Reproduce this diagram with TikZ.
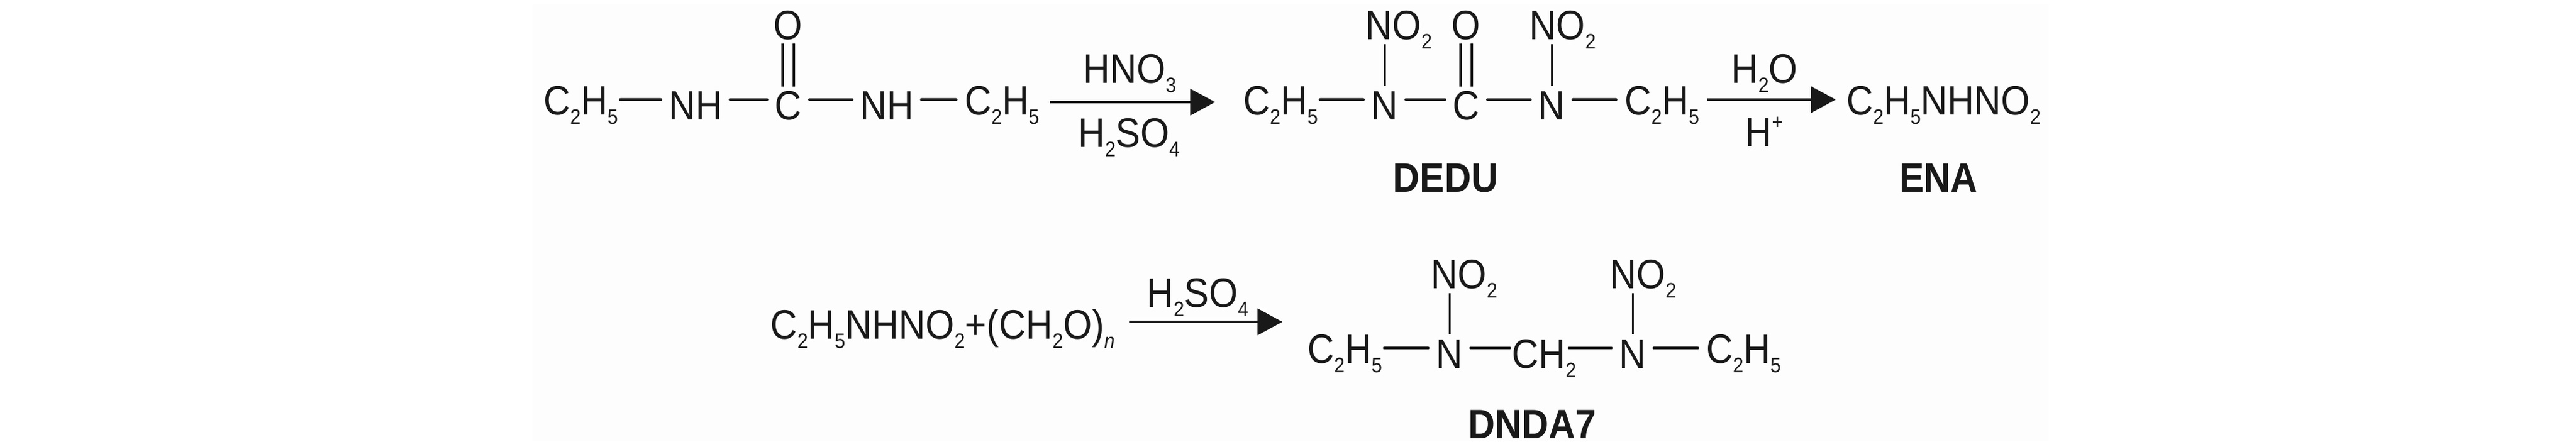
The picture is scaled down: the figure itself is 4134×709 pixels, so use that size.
\documentclass[tikz,border=0pt]{standalone}
\usepackage{fontspec}
\setmainfont[FakeStretch=0.9]{Liberation Sans}
\usetikzlibrary{arrows.meta}
\definecolor{paper}{gray}{0.993}
\definecolor{ink}{gray}{0.1}

\newcommand{\lownum}[1]{\raisebox{-0.15cm}{\fontsize{9.6}{10}\selectfont #1}}
\newcommand{\ethyl}{C\lownum{2}H\lownum{5}}
\newcommand{\nitro}{NO\lownum{2}}

\tikzset{
  atom/.style={anchor=base, inner xsep=0.12cm, inner ysep=0pt, text height=0.64cm, text depth=0pt,
    text=ink, font=\fontsize{18.8}{20}\selectfont},
  ethyl/.style={atom, inner xsep=0.03cm, text height=0.48cm},
  caption/.style={atom, font=\fontsize{18.8}{20}\selectfont\bfseries},
  bond/.style={line width=1.28pt, line cap=round, draw=ink},
  farbond/.style={bond, shorten >=0.1cm},
  nbond/.style={draw=ink, line width=0.85pt, shorten <=-0.11cm, shorten >=0.07cm},
  cobond/.style={draw=ink, line width=1.15pt, shorten <=-0.12cm, shorten >=0.05cm},
  rxn/.style={draw=ink, line width=1.3pt, -{Triangle[length=0.4cm,width=0.42cm]}}
}

\begin{document}
\begin{tikzpicture}[x=0.01cm, y=-0.01cm]
\useasboundingbox (0,0) rectangle (4134,709);
\fill[paper] (855,7) rectangle (3288,709);

%urea to DEDU
\node[ethyl] (e1) at (932,184) {\ethyl};
\node[atom] (nh1) at (1116,192) {NH};
\node[atom] (c1) at (1265,192) {C};
\node[atom] (nh2) at (1423,192) {NH};
\node[ethyl] (e2) at (1608,184) {\ethyl};
\node[atom] (o1) at (1265,64) {O};
\draw[bond] (e1) -- (nh1);
\draw[bond] (nh1) -- (c1);
\draw[bond] (c1) -- (nh2);
\draw[farbond] (nh2) -- (e2);
\foreach \s in {-9,9} {
  \draw[cobond] ([xshift=\s*0.01cm]c1.north) -- ([xshift=\s*0.01cm]o1.south);
}
\coordinate (r1a) at (1685,164);
\coordinate (r1b) at (1950,164);
\draw[rxn] (r1a) -- (r1b);
\node[atom] (hno) at (1813,133) {HNO\lownum{3}};
\node[atom] (hso1) at (1812,236) {H\lownum{2}SO\lownum{4}};

%DEDU
\node[ethyl] (e3) at (2055,184) {\ethyl};
\node[atom] (n1) at (2222,192) {N};
\node[atom] (c2) at (2353,192) {C};
\node[atom] (n2) at (2490,192) {N};
\node[ethyl] (e4) at (2667,184) {\ethyl};
\node[atom] (no2a) at (2245,63) {\nitro};
\node[atom] (o2) at (2353,64) {O};
\node[atom] (no2b) at (2508,63) {\nitro};
\draw[bond] (e3) -- (n1);
\draw[bond] (n1) -- (c2);
\draw[bond] (c2) -- (n2);
\draw[farbond] (n2) -- (e4);
\draw[nbond] (n1.north) -- (n1.north |- no2a.south);
\draw[nbond] (n2.north) -- (n2.north |- no2b.south);
\foreach \s in {-9,9} {
  \draw[cobond] ([xshift=\s*0.01cm]c2.north) -- ([xshift=\s*0.01cm]o2.south);
}
\node[caption] (dedu) at (2320,308) {DEDU};
\coordinate (r2a) at (2740,160);
\coordinate (r2b) at (2946,160);
\draw[rxn] (r2a) -- (r2b);
\node[atom] (water) at (2832,133) {H\lownum{2}O};
\node[atom] (acid) at (2831,235) {H\raisebox{0.27cm}{\fontsize{9.6}{10}\selectfont +}};

%ENA
\node[ethyl] (ena) at (3119,184) {\ethyl NHNO\lownum{2}};
\node[caption] (enaname) at (3111,308) {ENA};

%DNDA7
\node[ethyl] (mix) at (1513,544) {\ethyl NHNO\lownum{2}+(CH\lownum{2}O)\lownum{\textit{n}}};
\coordinate (r3a) at (1812,517);
\coordinate (r3b) at (2058,517);
\draw[rxn] (r3a) -- (r3b);
\node[atom] (hso2) at (1922,493) {H\lownum{2}SO\lownum{4}};
\node[ethyl] (e5) at (2158,583) {\ethyl};
\node[atom] (n3) at (2326,591) {N};
\node[atom, inner xsep=0.03cm] (ch) at (2478,591) {CH\lownum{2}};
\node[atom] (n4) at (2620,591) {N};
\node[ethyl] (e6) at (2798,583) {\ethyl};
\node[atom] (no2c) at (2350,463) {\nitro};
\node[atom] (no2d) at (2637,463) {\nitro};
\draw[bond] (e5) -- (n3);
\draw[bond] (n3) -- (ch);
\draw[bond, shorten <=-0.15cm] (ch) -- (n4);
\draw[farbond] (n4) -- (e6);
\draw[nbond] (n3.north) -- (n3.north |- no2c.south);
\draw[nbond] (n4.north) -- (n4.north |- no2d.south);
\node[caption] (dnda) at (2459,704) {DNDA7};
\end{tikzpicture}
\end{document}
